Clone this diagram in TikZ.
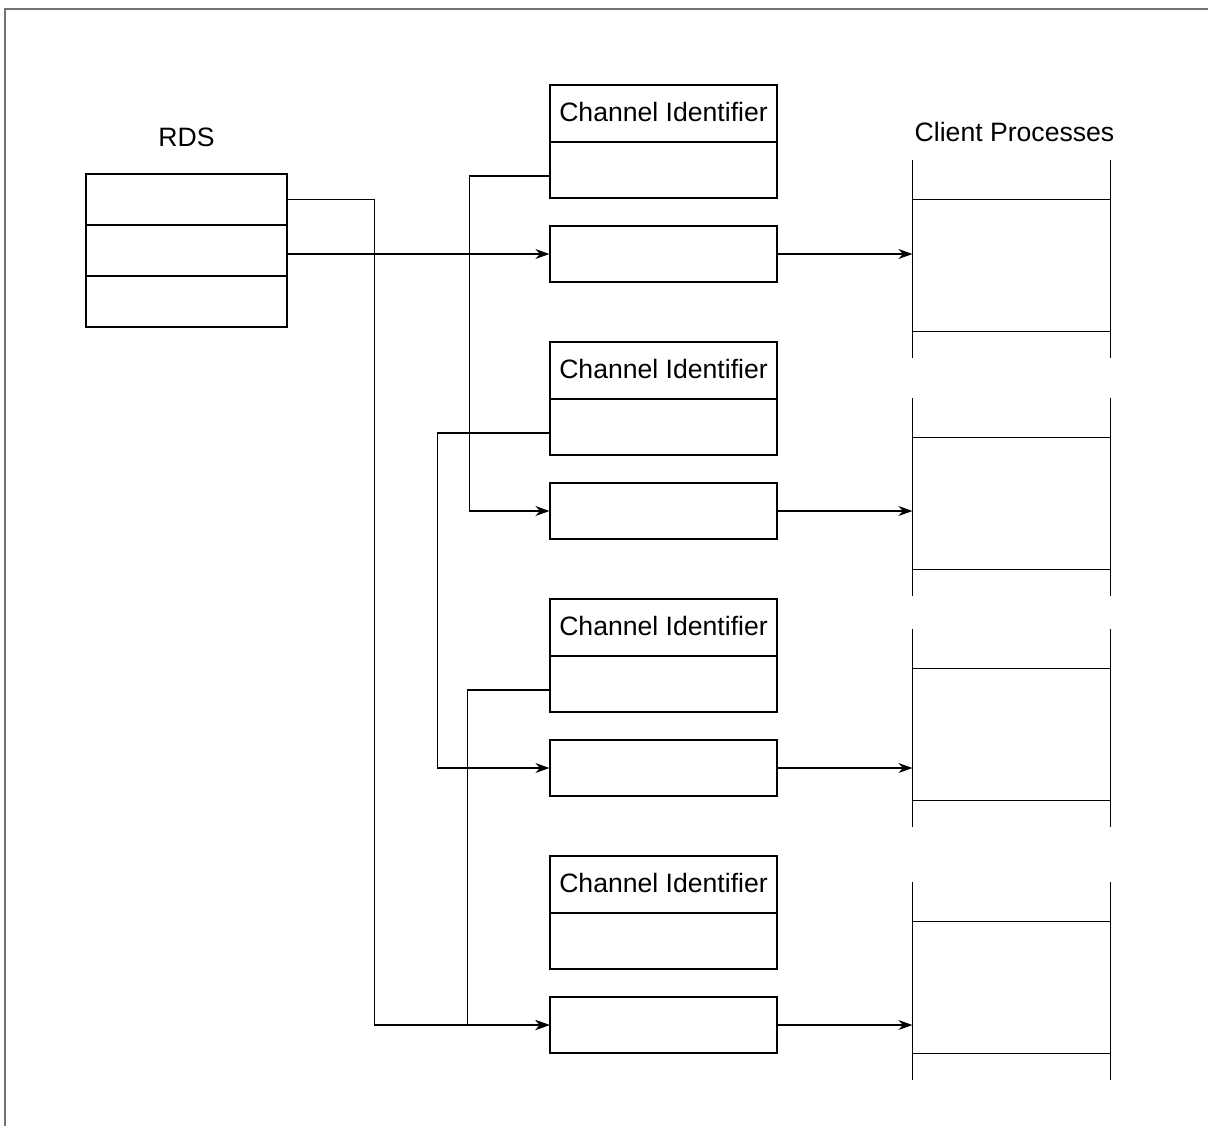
\documentclass[tikz,border=0pt]{standalone}
\usepackage{fontspec}
\setmainfont{Liberation Sans}
\usetikzlibrary{positioning,arrows.meta}

\begin{document}
\begin{tikzpicture}[x=0.5pt,y=-0.5pt,on grid,
line width=0.6pt,
font=\fontsize{13.3}{16}\selectfont,
feed/.style={-{Stealth[length=7pt,width=5pt]}},
rdsrow/.style={rectangle,draw,inner sep=0pt,minimum width=100.5pt,minimum height=25.5pt},
cihead/.style={rectangle,draw,inner sep=0pt,minimum width=113.5pt,minimum height=28.5pt},
cibody/.style={rectangle,draw,inner sep=0pt,minimum width=113.5pt,minimum height=28pt},
databox/.style={rectangle,draw,inner sep=0pt,minimum width=113.5pt,minimum height=28pt},
client/.style={rectangle,inner sep=0pt,minimum width=98.5pt,minimum height=98pt}
]
\useasboundingbox (0,0) rectangle (1208,1126);
\draw[black!55] (5,1126) -- (5,9) -- (1208,9);

% RDS table
\node[rdsrow] (rds1) at (186.5,199.5) {};
\node[rdsrow] (rds2) [below=25.5pt of rds1] {};
\node[rdsrow] (rds3) [below=25.5pt of rds2] {};
\node[inner sep=0pt,anchor=south] (rdslabel) at ([yshift=13pt]rds1.north) {RDS};

% channels
\foreach \i in {1,...,4}{
  \node[cihead] (c\i a) at (663.5,{113.5+257*(\i-1)}) {\raisebox{2pt}{Channel Identifier}};
  \node[cibody] (c\i b) [below=28.25pt of c\i a] {};
  \node[databox] (d\i) [below=42pt of c\i b] {};
}

% client processes
\foreach \i/\cy in {1/259,2/497,3/728,4/981}{
  \node[client] (cp\i) at (1011.5,\cy) {};
  \draw (cp\i.north west) -- (cp\i.south west);
  \draw (cp\i.north east) -- (cp\i.south east);
  \draw ([yshift=-19.5pt]cp\i.north west) -- ([yshift=-19.5pt]cp\i.north east);
  \draw ([yshift=13pt]cp\i.south west) -- ([yshift=13pt]cp\i.south east);
  \draw[feed] (d\i.east) -- (d\i.east -| cp\i.west);
}
\node[inner sep=0pt,anchor=south] (cplabel) at ([xshift=1.5pt,yshift=9pt]cp1.north) {Client Processes};

% links
\draw[feed] (rds2.east |- d1.west) -- (d1.west);
\draw[feed] (rds1.east) -- ++(87,0) |- (d4.west);
\draw[feed] ([yshift=-3pt]c1b.west) -- ++(-80,0) |- (d2.west);
\draw[feed] ([yshift=-3pt]c2b.west) -- ++(-112,0) |- (d3.west);
\draw[feed] ([yshift=-3pt]c3b.west) -- ++(-82,0) |- (d4.west);
\end{tikzpicture}
\end{document}
